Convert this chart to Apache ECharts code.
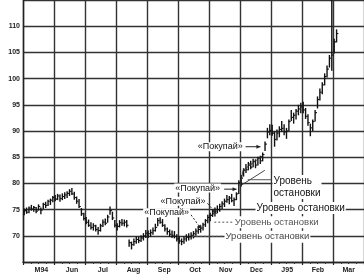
<!DOCTYPE html>
<html><head><meta charset="utf-8">
<script src="https://cdn.jsdelivr.net/npm/echarts@6/dist/echarts.min.js"></script>
<style>html,body{margin:0;padding:0;background:#fff}#c{width:364px;height:277px}</style>
</head><body><div id="c"></div>
<script>
// ---- data ----
const monthLabels = ['M94','Jun','Jul','Aug','Sep','Oct','Nov','Dec','J95','Feb','Mar'];
const yTickLabels = [70,75,80,85,90,95,100,105,110];
// price bars per month: [high, low, close]
const may94 = [[75.2,73.9,74.8],[75.4,74.2,74.5],[75.6,74.3,75.3],[75.9,74.8,75.1],[75.7,74.6,75.4],[75.5,74.3,74.7],[76.0,74.8,75.6],[75.4,74.1,74.9],[76.3,75.1,76.0],[76.5,75.3,75.8],[76.9,75.7,76.6],[77.1,75.9,76.8],[77.6,76.4,77.3]];
const jun94 = [[77.8,76.6,77.0],[78.0,76.8,77.6],[77.9,76.5,77.1],[78.1,76.8,77.5],[78.3,77.0,77.8],[78.5,77.2,78.1],[78.9,77.6,78.5],[79.1,77.8,78.0],[78.4,76.9,77.3],[77.5,76.1,76.6],[77.0,75.3,75.6],[75.3,73.8,74.2],[74.4,72.9,73.3]];
const jul94 = [[73.6,72.2,72.6],[73.1,71.7,72.0],[72.6,71.2,71.6],[72.4,71.0,71.9],[72.1,70.8,71.2],[71.7,70.2,71.0],[72.3,70.8,71.9],[73.1,71.7,72.6],[73.3,72.0,72.4],[74.0,72.5,73.6],[75.6,74.0,74.8],[74.6,73.0,73.4],[73.0,71.6,72.0]];
const aug94 = [[72.4,71.0,71.8],[73.0,71.6,72.5],[73.2,71.9,72.4],[73.1,71.8,72.6],[73.0,71.6,72.0],[69.3,67.9,68.7],[68.9,67.4,68.3],[69.5,68.1,68.9],[69.9,68.5,69.3],[69.8,68.6,69.1],[70.1,68.8,69.6],[70.5,69.1,70.0],[71.1,69.6,70.5]];
const sep94 = [[71.0,69.6,70.4],[71.2,69.8,70.6],[71.6,70.2,71.0],[72.3,70.8,71.6],[73.4,71.8,72.9],[73.7,72.3,72.6],[73.2,71.7,72.0],[72.2,70.8,71.3],[71.6,70.2,70.8],[71.2,69.8,70.3],[71.0,69.6,70.1],[70.9,69.5,69.9],[70.3,68.9,69.4]];
const oct94 = [[69.9,68.5,69.0],[69.5,68.2,68.9],[69.9,68.5,69.4],[70.3,68.9,69.7],[70.5,69.1,69.8],[70.7,69.3,70.1],[70.9,69.5,70.4],[71.4,70.0,70.9],[71.8,70.4,71.2],[72.0,70.6,71.5],[72.5,71.0,72.1],[73.2,71.7,72.9],[74.0,72.4,73.5]];
const nov94 = [[74.4,72.8,73.9],[75.1,73.6,74.2],[75.4,73.7,74.7],[75.8,74.3,75.0],[76.1,74.6,75.6],[76.6,75.1,76.1],[77.1,75.5,76.6],[77.8,76.3,76.9],[77.6,76.0,77.2],[78.0,76.4,76.7],[77.3,75.7,76.9],[78.3,76.8,78.0],[80.6,78.0,80.2]];
const dec94 = [[81.6,79.4,81.0],[82.9,81.3,82.5],[83.7,82.0,82.6],[84.1,82.5,83.7],[84.3,82.7,83.1],[84.7,83.1,84.2],[84.6,82.9,83.5],[85.1,83.4,84.8],[85.3,83.7,84.3],[85.9,84.2,85.5],[88.0,86.2,87.5],[90.6,88.6,89.8],[91.3,89.2,90.1]];
const jan95 = [[91.2,89.1,89.6],[89.9,87.0,88.4],[90.3,88.2,89.6],[90.9,88.8,90.3],[91.9,89.8,90.5],[91.3,89.2,89.8],[90.6,88.5,90.0],[92.2,90.0,91.8],[94.0,91.9,92.6],[93.5,91.4,93.0],[94.2,92.2,93.8],[95.0,93.0,94.2],[95.4,93.4,94.6]];
const feb95 = [[95.6,93.4,94.0],[94.4,92.3,92.8],[93.2,91.0,91.6],[91.4,89.0,90.6],[92.2,90.0,91.8],[94.0,91.8,93.5],[96.6,94.3,96.0],[98.1,95.8,97.4],[99.3,97.0,98.8],[101.0,98.7,100.4],[102.5,100.2,101.8],[104.5,102.1,103.9],[115.0,101.5,104.5]];
const mar95 = [[107.6,104.8,107.0],[109.4,106.9,108.6]];
const monthBars = [may94,jun94,jul94,aug94,sep94,oct94,nov94,dec94,jan95,feb95,mar95];
const barsPerMonth = 13;

// annotations in data units: [month-time, price]
const buyLabels = [
  {text:'«Покупай»', at:[7.12,87.0], arrow:[[7.18,87.0],[7.66,87.0]], dashed:false},
  {text:'«Покупай»', at:[6.39,79.1], arrow:[[6.49,78.9],[6.89,78.9]], dashed:false},
  {text:'«Покупай»', at:[5.92,76.6], arrow:[[5.95,76.2],[6.24,74.2]], dashed:true},
  {text:'«Покупай»', at:[5.39,74.4], arrow:[[5.42,74.0],[5.75,71.3]], dashed:true}
];
const stopLabels = [
  {text:'Уровень\nостановки', at:[8.05,79.3], size:10, color:'#111'},
  {text:'Уровень остановки', at:[7.5,75.3], size:10, color:'#111'},
  {text:'Уровень остановки', at:[6.8,72.6], size:9.5, color:'#555'},
  {text:'Уровень остановки', at:[6.5,69.8], size:9.5, color:'#444'}
];
const stopLines = [
  {from:[7.25,80.7], to:[8.0,80.7], dashed:false},
  {from:[6.17,72.6], to:[6.76,72.6], dashed:true},
  {from:[5.45,69.9], to:[6.46,69.9], dashed:true}
];
const channel = [[[7.0,79.5],[7.8,82.5]],[[7.1,82.5],[7.75,85.4]],[[7.0,79.5],[7.1,82.5]]];

const bars = [];
monthBars.forEach((arr, m) => arr.forEach((b, i) => bars.push([m + (i + 0.5) / barsPerMonth, b[0], b[1], b[2]])));

const chart = echarts.init(document.getElementById('c'), null, {renderer:'canvas'});
const axisFont = {fontFamily:'Liberation Sans', fontWeight:'bold', fontSize:7, color:'#222'};
const gridColor = '#333';
chart.setOption({
  animation:false,
  backgroundColor:'#fff',
  grid:[
    {left:23, top:-1, width:354, height:263},
    {left:26, top:-1, width:344, height:263}
  ],
  xAxis:[
    {type:'value', gridIndex:0, min:0, max:11, interval:1,
     axisLine:{show:true, onZero:false, lineStyle:{color:'#222', width:1.4}},
     axisTick:{show:true, length:3, lineStyle:{color:'#222', width:1.2}},
     minorTick:{show:true, splitNumber:4, length:2, lineStyle:{color:'#333', width:1}},
     axisLabel:{show:false},
     splitLine:{show:true, lineStyle:{color:gridColor, width:1.4}}},
    {type:'category', gridIndex:1, data:monthLabels, boundaryGap:true, position:'bottom',
     axisLine:{show:false}, axisTick:{show:false},
     axisLabel:Object.assign({margin:5, interval:0}, axisFont), splitLine:{show:false}}
  ],
  yAxis:[
    {type:'value', gridIndex:0, min:65, max:115, interval:5,
     axisLine:{show:true, lineStyle:{color:'#222', width:1.4}},
     axisTick:{show:false},
     axisLabel:Object.assign({margin:3, formatter:v => yTickLabels.indexOf(v) >= 0 ? String(v) : ''}, axisFont),
     splitLine:{show:true, lineStyle:{color:gridColor, width:1.4}}},
    {type:'value', gridIndex:1, min:65, max:115, show:false, splitLine:{show:false}}
  ],
  series:[{
    type:'custom', xAxisIndex:0, yAxisIndex:0, data:bars, clip:true,
    encode:{x:0, y:[1,2,3]},
    renderItem:(params, api) => {
      const t = api.value(0);
      const hi = api.coord([t, api.value(1)]);
      const lo = api.coord([t, api.value(2)]);
      const cl = api.coord([t, api.value(3)]);
      return {type:'group', children:[
        {type:'line', shape:{x1:hi[0], y1:hi[1], x2:lo[0], y2:lo[1]}, style:{stroke:'#111', lineWidth:1.4}},
        {type:'line', shape:{x1:cl[0], y1:cl[1], x2:cl[0]+1.8, y2:cl[1]}, style:{stroke:'#111', lineWidth:1.1}}
      ]};
    }
  }]
});

const P = d => chart.convertToPixel({xAxisIndex:0, yAxisIndex:0}, d);
const g = [];
function line(a, b, dashed, color, w) {
  const p1 = P(a), p2 = P(b);
  g.push({type:'line', z:10, shape:{x1:p1[0], y1:p1[1], x2:p2[0], y2:p2[1]},
    style:{stroke:color || '#222', lineWidth:w || 1, lineDash:dashed ? [2,2] : null}});
  return [p1, p2];
}
function arrow(a, b, dashed) {
  const [p1, p2] = line(a, b, dashed, '#222', 1);
  const ang = Math.atan2(p2[1]-p1[1], p2[0]-p1[0]);
  const L = 4, W = 2;
  const bx = p2[0] - L*Math.cos(ang), by = p2[1] - L*Math.sin(ang);
  g.push({type:'polygon', z:10, shape:{points:[[p2[0],p2[1]],[bx - W*Math.sin(ang), by + W*Math.cos(ang)],[bx + W*Math.sin(ang), by - W*Math.cos(ang)]]}, style:{fill:'#222'}});
}
channel.forEach(s => line(s[0], s[1], false, '#333', 0.9));
stopLines.forEach(s => line(s.from, s.to, s.dashed, '#555', 1));
buyLabels.forEach(b => {
  const p = P(b.at);
  g.push({type:'text', z:11, x:p[0], y:p[1], style:{text:b.text, fontFamily:'Liberation Sans', fontSize:9, fill:'#111', align:'right', verticalAlign:'middle', backgroundColor:'#fff', padding:[0,1]}});
  arrow(b.arrow[0], b.arrow[1], b.dashed);
});
stopLabels.forEach(s => {
  const p = P(s.at);
  g.push({type:'text', z:11, x:p[0], y:p[1], style:{text:s.text, fontFamily:'Liberation Sans', fontSize:s.size, lineHeight:12, fill:s.color, align:'left', verticalAlign:'middle', backgroundColor:'#fff', padding:[0,1]}});
});
chart.setOption({graphic:{elements:g}});
</script></body></html>
